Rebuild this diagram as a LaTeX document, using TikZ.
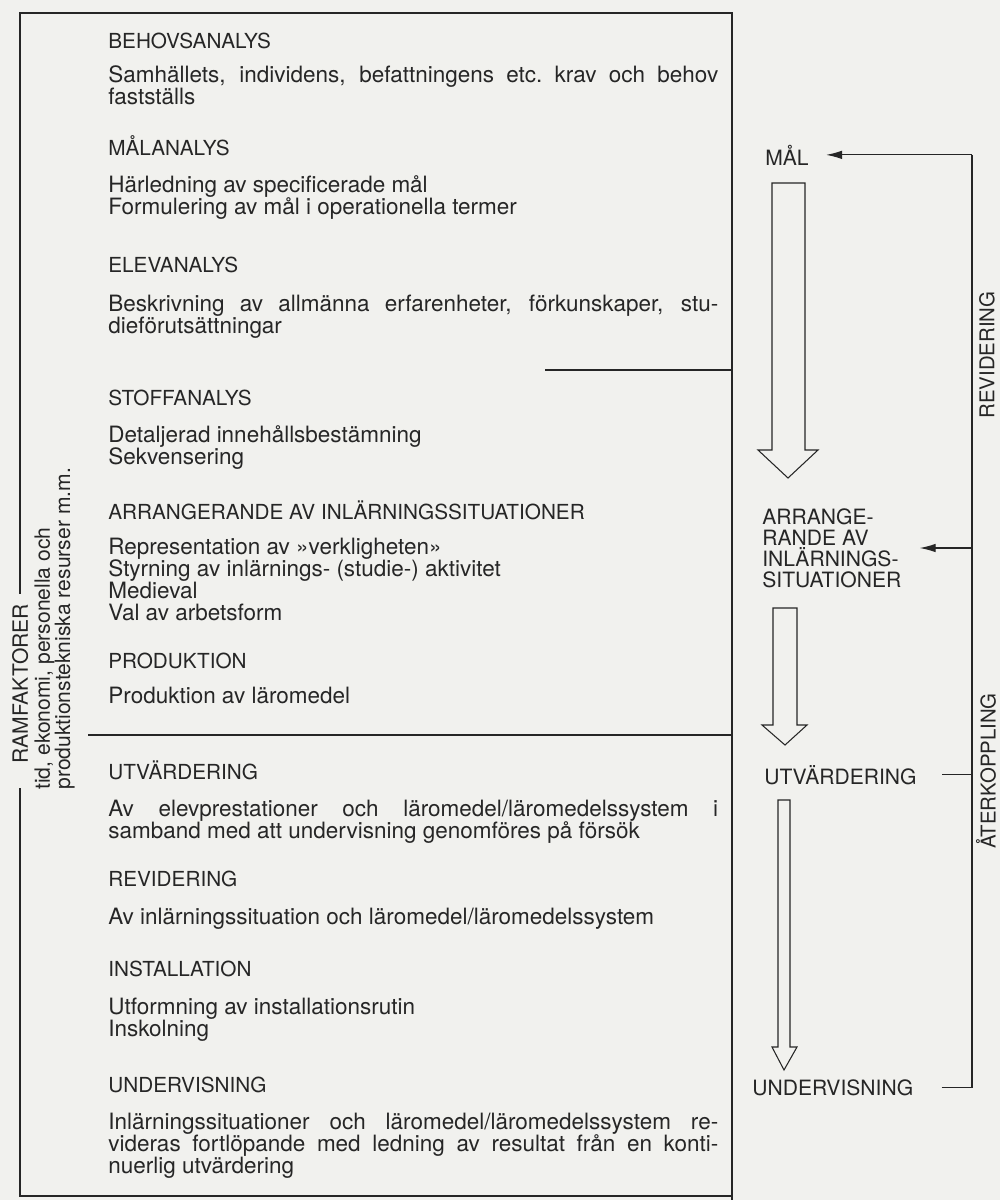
\documentclass[tikz,border=0pt]{standalone}
\usepackage{fontspec}
\setmainfont{TeX Gyre Heros}
\usetikzlibrary{arrows.meta}
\definecolor{paper}{RGB}{241,241,238}
\definecolor{ink}{RGB}{38,38,38}

\begin{document}
\begin{tikzpicture}[x=0.02cm,y=-0.02cm,color=ink,
  frame/.style={line width=1pt},
  sepline/.style={line width=0.6pt},
  phase/.style={anchor=base west,inner sep=0pt,font=\fontsize{11.8}{12.5}\selectfont},
  phasetext/.style={phase,text width=12.2cm,align=justify,font=\fontsize{12.8}{12.6}\selectfont,
    execute at begin node={\tolerance=10000\hyphenpenalty=10000}},
  flow/.style={inner sep=0pt,align=left,font=\fontsize{12}{11.9}\selectfont},
  side/.style={inner sep=0pt,rotate=90,font=\fontsize{11.6}{12}\selectfont},
  fbarrow/.style={-{Latex[length=0.32cm,width=0.17cm]}}]
\fill[paper] (0,0) rectangle (1000,1200);
\useasboundingbox (0,0) rectangle (1000,1200);

\node[side,anchor=base west,font=\fontsize{12}{12}\selectfont] (ram1) at (28,764) {RAMFAKTORER};
\node[side,anchor=base west,font=\fontsize{12}{12}\selectfont] (ram2) at (50,790) {tid, ekonomi, personella och};
\node[side,anchor=base west,font=\fontsize{12}{12}\selectfont] (ram3) at (70,790) {produktionstekniska resurser m.m.};

\draw[frame,shorten <=0.2cm] (ram1.east) |- (732,13) -- (732,1200);
\draw[frame,shorten <=0.48cm] (ram1.west) |- (732,1196);
\draw[sepline] (545,370) -- (732,370);
\draw[sepline] (88,735) -- (732,735);

\node[phase] (behov) at (108,49) {BEHOVSANALYS};
\node[phasetext] (behovtxt) at (108,82) {Samhällets, individens, befattningens etc.\ krav och behov\linebreak fastställs};
\node[phase] (malan) at (108,155) {MÅLANALYS};
\node[phasetext] (malantxt) at (108,192) {Härledning av specificerade mål\newline Formulering av mål i operationella termer};
\node[phase] (elev) at (108,272) {ELEVANALYS};
\node[phasetext] (elevtxt) at (108,311) {Beskrivning av allmänna erfarenheter, förkunskaper, stu-\linebreak dieförutsättningar};
\node[phase] (stoff) at (108,405) {STOFFANALYS};
\node[phasetext] (stofftxt) at (108,442) {Detaljerad innehållsbestämning\newline Sekvensering};
\node[phase] (arrang) at (108,519) {ARRANGERANDE AV INLÄRNINGSSITUATIONER};
\node[phasetext] (arrangtxt) at (108,554) {Representation av »verkligheten»\newline Styrning av inlärnings- (studie-) aktivitet\newline Medieval\newline Val av arbetsform};
\node[phase] (prod) at (108,668) {PRODUKTION};
\node[phasetext] (prodtxt) at (108,703) {Produktion av läromedel};
\node[phase] (utvard) at (108,779) {UTVÄRDERING};
\node[phasetext] (utvardtxt) at (108,816) {Av elevprestationer och läromedel/läromedelssystem i\linebreak samband med att undervisning genomföres på försök};
\node[phase] (revid) at (108,886) {REVIDERING};
\node[phasetext] (revidtxt) at (108,924) {Av inlärningssituation och läromedel/läromedelssystem};
\node[phase] (install) at (108,976) {INSTALLATION};
\node[phasetext] (installtxt) at (108,1014) {Utformning av installationsrutin\newline Inskolning};
\node[phase] (underv) at (108,1092) {UNDERVISNING};
\node[phasetext] (undervtxt) at (108,1129) {Inlärningssituationer och läromedel/läromedelssystem re-\linebreak videras fortlöpande med ledning av resultat från en konti-\linebreak nuerlig utvärdering};

\node[flow,anchor=base west] (mal) at (765,165) {MÅL};
\node[flow,anchor=west] (arr) at (762,548) {ARRANGE-\\RANDE AV\\INLÄRNINGS-\\SITUATIONER};
\node[flow,anchor=base west] (utv) at (764,784) {UTVÄRDERING};
\node[flow,anchor=base west] (und) at (752,1095) {UNDERVISNING};

\draw[sepline] (772,183) -- (805,183) -- (805,450) -- (818,450) -- (788,478) -- (758,450) -- (772,450) -- cycle;
\draw[sepline] (773,608) -- (797,608) -- (797,725) -- (807,725) -- (785,745) -- (762,725) -- (773,725) -- cycle;
\draw[sepline] (778,800) -- (790,800) -- (790,1047) -- (797,1047) -- (784,1070) -- (772,1047) -- (778,1047) -- cycle;

\coordinate (fb) at (972,0);
\draw[sepline,shorten <=0.56cm] (und.east) -- (und.east -| fb) -- (mal.east -| fb);
\draw[sepline,fbarrow,shorten >=0.34cm] (mal.east -| fb) -- (mal.east);
\draw[sepline,fbarrow,shorten >=0.36cm] (arr.east -| fb) -- (arr.east);
\draw[sepline,shorten >=0.5cm] (utv.east -| fb) -- (utv.east);

\node[side] (revlab) at (987,355) {REVIDERING};
\node[side] (aterlab) at (986,771) {ÅTERKOPPLING};
\end{tikzpicture}
\end{document}
